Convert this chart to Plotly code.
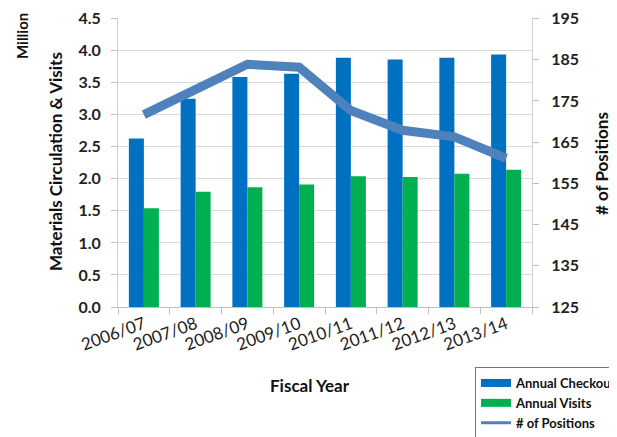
import plotly.graph_objects as go

years = ["2006/07", "2007/08", "2008/09", "2009/10", "2010/11", "2011/12", "2012/13", "2013/14"]
checkouts = [2.63, 3.25, 3.59, 3.64, 3.89, 3.86, 3.89, 3.94]
visits = [1.54, 1.80, 1.87, 1.91, 2.04, 2.03, 2.08, 2.14]
positions = [171.7, 177.8, 183.9, 183.2, 172.7, 167.9, 166.3, 161.1]
left_ticks = [0.0, 0.5, 1.0, 1.5, 2.0, 2.5, 3.0, 3.5, 4.0, 4.5]
right_ticks = [125, 135, 145, 155, 165, 175, 185, 195]

FONT = "Lato, 'Open Sans', sans-serif"
W, H = 617, 437
OFF = 8  # page body margin offset
# plot area in page pixels: x 118..532, y 18..307
L = 118 - OFF
T = 18 - OFF
R = W - (532 - OFF)
B = H - (307 - OFF)
pw, ph = W - L - R, H - T - B

BLUE, GREEN, LINE = "#0070C0", "#00B050", "#4F81BD"
EPS = 1.002  # tiny headroom so the top gridline is drawn

def px(x):
    return (x - OFF - L) / pw

def py(y):
    return (H - B - (y - OFF)) / ph

fig = go.Figure()
fig.add_trace(go.Bar(x=years, y=checkouts, name="Annual Checkouts", showlegend=False,
                     marker=dict(color=BLUE, line=dict(width=0))))
fig.add_trace(go.Bar(x=years, y=visits, name="Annual Visits", showlegend=False,
                     marker=dict(color=GREEN, line=dict(width=0))))
fig.add_trace(go.Scatter(x=years, y=positions, name="# of Positions", mode="lines", showlegend=False,
                         line=dict(color=LINE, width=9), yaxis="y2"))
# legend keys (wide swatches like the original)
for name, color, w in [("Annual Checkouts", BLUE, 8), ("Annual Visits", GREEN, 8), ("# of Positions", LINE, 3)]:
    fig.add_trace(go.Scatter(x=[None], y=[None], name=name, mode="lines",
                             line=dict(color=color, width=w), showlegend=True))

ymax = left_ticks[-1] * EPS
y2min, y2max = right_ticks[0], right_ticks[0] + (right_ticks[-1] - right_ticks[0]) * EPS

TF = dict(size=17, family=FONT, color="#111", weight="bold")

def label(text, x, y, angle=0, size=17):
    return dict(text=text, x=px(x), y=py(y), xref="paper", yref="paper", showarrow=False,
                xanchor="center", yanchor="middle", textangle=angle, font={**TF, "size": size})

fig.update_layout(
    width=W, height=H,
    margin=dict(l=L, r=R, t=T, b=B, pad=0, autoexpand=False),
    paper_bgcolor="white", plot_bgcolor="white",
    font=dict(family=FONT, color="#222"),
    barmode="group", bargap=0.42, bargroupgap=0,
    showlegend=True,
    legend=dict(x=px(475), y=py(367), xanchor="left", yanchor="top",
                bordercolor="#777", borderwidth=1, bgcolor="white",
                font=dict(size=13, family=FONT, color="#111", weight="bold"),
                tracegroupgap=0, itemwidth=30, traceorder="normal"),
    xaxis=dict(tickangle=-20, tickfont=dict(size=17, family=FONT, color="#222"),
               showline=True, linecolor="#BFBFBF", linewidth=1,
               ticks="outside", tickson="boundaries", ticklen=6, tickcolor="#BFBFBF",
               showgrid=False),
    yaxis=dict(range=[0, ymax], tickvals=left_ticks, tickformat=".1f",
               tickfont=dict(size=16, family=FONT, color="#222", weight="bold"),
               ticklabeloverflow="allow", ticklabelstandoff=7,
               showline=True, linecolor="#D0D0D0", linewidth=1,
               ticks="outside", ticklen=6, tickcolor="#BFBFBF",
               showgrid=True, gridcolor="#D9D9D9", gridwidth=1, zeroline=False),
    yaxis2=dict(range=[y2min, y2max], tickvals=right_ticks, overlaying="y", side="right",
                tickfont=dict(size=16, family=FONT, color="#222", weight="bold"),
                ticklabeloverflow="allow", ticklabelstandoff=9,
                showline=True, linecolor="#D0D0D0", linewidth=1,
                ticks="outside", ticklen=6, tickcolor="#BFBFBF",
                showgrid=False, zeroline=False),
    annotations=[
        label("Million", 22, 36, -90, 15),
        label("Materials Circulation & Visits", 55, 162, -90),
        label("# of Positions", 601, 164, -90),
        label("Fiscal Year", 310, 385),
    ],
)

fig.write_html("out.html")
